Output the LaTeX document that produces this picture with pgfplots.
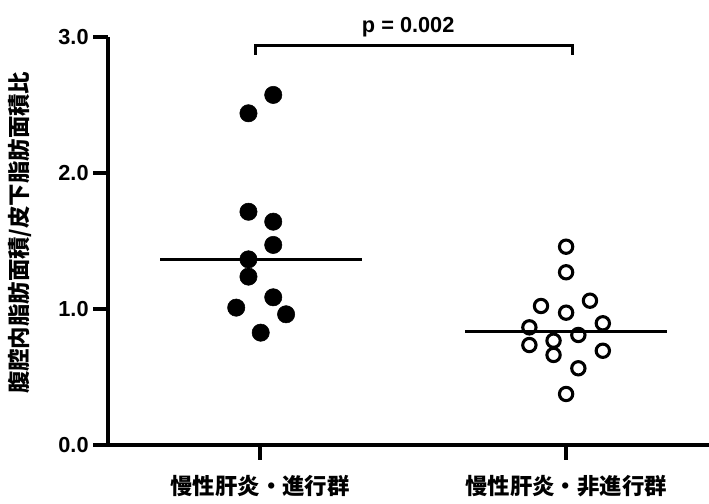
\documentclass[border=0pt]{standalone}
\usepackage{pgfplots}
\pgfplotsset{compat=1.18}
\usepackage{fontspec}
\setmainfont{Liberation Sans}
\newfontfamily\cjk{Noto Sans CJK JP}
\pgfplotstableread{
x y
1.043 2.574
0.962 2.439
0.962 1.715
1.043 1.642
1.043 1.471
0.962 1.365
0.962 1.238
1.043 1.086
0.922 1.010
1.085 0.961
1.002 0.826
}\progressed
\pgfplotstableread{
x y
2.000 1.458
2.000 1.270
2.078 1.061
1.918 1.022
2.000 0.973
2.120 0.895
1.880 0.865
2.040 0.809
1.959 0.767
1.880 0.735
1.959 0.662
2.120 0.693
2.040 0.564
2.000 0.375
}\nonprogressed
\begin{document}
\begin{tikzpicture}
\begin{axis}[
  scale only axis, width=450.75pt, height=306pt,
  xmin=0.503, xmax=2.467, ymin=0, ymax=3,
  axis x line=bottom, axis y line=left,
  axis line style={-, line width=3.5pt},
  tick align=outside, major tick length=11pt,
  every tick/.style={black, line width=3.5pt},
  xtick={1,2},
  xticklabels={{\cjk\bfseries 慢性肝炎・進行群},{\cjk\bfseries 慢性肝炎・非進行群}},
  ytick={0,1,2,3},
  yticklabel style={font=\fontsize{16.3pt}{19pt}\selectfont\bfseries, /pgf/number format/.cd, fixed, fixed zerofill, precision=1, assume math mode=true},
  xticklabel style={yshift=-8pt, font=\fontsize{16.8pt}{19pt}\selectfont},
  ylabel={\cjk\bfseries 腹腔内脂肪面積/皮下脂肪面積比},
  ylabel style={at={(axis description cs:-0.1464,0.52)}, anchor=center, font=\fontsize{16.8pt}{19pt}\selectfont},
  clip=false,
]
\addplot[only marks, mark=*, mark size=6.5pt, mark options={fill=black, draw=black}] table[x=x,y=y] {\progressed};
\addplot[only marks, mark=o, mark size=5pt, mark options={draw=black, line width=2.3pt, fill=white}] table[x=x,y=y] {\nonprogressed};
\addplot[black, line width=2.6pt, no marks] coordinates {(0.673,1.365) (1.333,1.365)};
\addplot[black, line width=2.6pt, no marks] coordinates {(1.670,0.835) (2.330,0.835)};
\addplot[black, line width=2.3pt, no marks] coordinates {(0.984,2.87) (0.984,2.94) (2.020,2.94) (2.020,2.87)};
\node[anchor=base, font=\fontsize{16.3pt}{19pt}\selectfont\bfseries] at (axis cs:1.484,3.03) {p = 0.002};
\coordinate (bl) at (rel axis cs:0,0);
\coordinate (tr) at (rel axis cs:1,1);
\end{axis}
\pgfresetboundingbox
\path ([xshift=-81pt,yshift=-44.25pt]bl) rectangle ([yshift=27.75pt]tr);
\end{tikzpicture}
\end{document}
